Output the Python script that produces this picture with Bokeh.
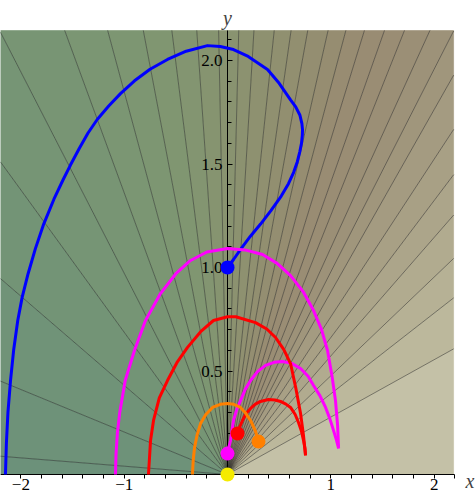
import math
from bokeh.plotting import figure
from bokeh.models import FixedTicker, Label, LinearAxis
from bokeh.embed import file_html
from bokeh.resources import INLINE

# ---- data ----
# angles (degrees, in data space) of the contour rays from the origin
contour_angles = [15.5, 21.3, 25.5, 29.8, 33.5, 37.3, 41.4, 44.4, 47.6, 51.4,
                  54.7, 58.3, 61.9, 65.6, 70.1, 74.0, 78.1, 83.2, 87.1, 92.3,
                  97.9, 104.1, 110.8, 118.4, 126.3, 135.8, 145.5, 156.7, 168.4, 177.7]
# fill colour of each band between consecutive rays (0deg -> 180deg)
band_colors = ["#C4C1A7", "#BCB89C", "#B6B195", "#B1AB8F", "#ACA58A", "#A8A085",
               "#A49B81", "#A0967C", "#9D9279", "#9B8F76", "#9A8D74", "#998C73",
               "#988C72", "#968D71", "#948E71", "#928F70", "#909070", "#8E9170",
               "#8C9270", "#899370", "#869470", "#839571", "#809671", "#7D9672",
               "#7B9673", "#789574", "#769575", "#739476", "#709378", "#6E9279",
               "#6C917A"]

blue_x = [0.0, 0.06, 0.13, 0.22, 0.32, 0.42, 0.52, 0.59, 0.64, 0.675, 0.70, 0.716,
          0.724, 0.726, 0.72, 0.70, 0.66, 0.61, 0.50, 0.387, 0.2, 0.058, -0.07, -0.194,
          -0.4, -0.581, -0.75, -0.90, -1.036, -1.15, -1.261, -1.35, -1.435, -1.52,
          -1.59, -1.68, -1.778, -1.86, -1.93, -1.987, -2.03, -2.07, -2.1, -2.125,
          -2.14, -2.149]
blue_y = [1.0, 1.04, 1.09, 1.15, 1.21, 1.275, 1.345, 1.405, 1.46, 1.51, 1.56, 1.60,
          1.64, 1.665, 1.695, 1.737, 1.776, 1.81, 1.89, 1.957, 2.02, 2.053, 2.068, 2.072,
          2.045, 2.005, 1.958, 1.902, 1.84, 1.78, 1.715, 1.65, 1.575, 1.495,
          1.425, 1.33, 1.211, 1.09, 0.97, 0.857, 0.744, 0.6, 0.454, 0.3,
          0.15, 0.0]

mag_big_x = [-1.084, -1.079, -1.066, -1.043, -0.99, -0.9, -0.794, -0.649, -0.5, -0.358,
             -0.2, 0.0, 0.17, 0.339, 0.48, 0.61, 0.73, 0.833, 0.91,
             0.968, 1.01, 1.045, 1.065, 1.075]
mag_big_y = [0.0, 0.1, 0.2, 0.3, 0.454, 0.6, 0.744, 0.874, 0.97, 1.034,
             1.075, 1.092, 1.085, 1.063, 1.02, 0.961, 0.885, 0.792, 0.7,
             0.599, 0.48, 0.357, 0.24, 0.126]
mag_small_x = [0.0, 0.012, 0.029, 0.058, 0.09, 0.126, 0.17, 0.223, 0.29, 0.368, 0.45,
               0.532, 0.62, 0.707, 0.78, 0.833, 0.895, 0.949, 0.99, 1.026, 1.055, 1.075]
mag_small_y = [0.101, 0.13, 0.164, 0.261, 0.315, 0.357, 0.41, 0.454, 0.497, 0.527, 0.542,
               0.546, 0.537, 0.512, 0.475, 0.43, 0.38, 0.324, 0.27, 0.213, 0.165, 0.126]

red_big_x = [-0.765, -0.755, -0.745, -0.716, -0.66, -0.581, -0.49, -0.387, -0.26, -0.136,
             0.0, 0.08, 0.271, 0.38, 0.465, 0.545, 0.61, 0.66, 0.707, 0.735, 0.755]
red_big_y = [0.0, 0.08, 0.164, 0.261, 0.37, 0.454, 0.54, 0.614, 0.69, 0.744,
             0.762, 0.762, 0.734, 0.703, 0.662, 0.603, 0.536, 0.42, 0.295, 0.19, 0.092]
red_small_x = [0.097, 0.12, 0.145, 0.18, 0.223, 0.27, 0.319, 0.397, 0.46, 0.513, 0.565,
               0.61, 0.655, 0.687, 0.715, 0.736, 0.75, 0.755]
red_small_y = [0.198, 0.232, 0.261, 0.295, 0.319, 0.34, 0.353, 0.362, 0.36, 0.353, 0.34,
               0.324, 0.29, 0.251, 0.21, 0.164, 0.125, 0.092]

orange_x = [0.30, 0.27, 0.223, 0.17, 0.126, 0.06, 0.0, -0.07, -0.145, -0.21, -0.261,
            -0.295, -0.319, -0.332, -0.339]
orange_y = [0.159, 0.21, 0.261, 0.3, 0.324, 0.339, 0.343, 0.339, 0.324, 0.29, 0.246,
            0.19, 0.13, 0.07, 0.0]

dot_x = [0.0, 0.0, 0.097, 0.30, 0.0]
dot_y = [1.0, 0.101, 0.198, 0.159, 0.0]
dot_colors = ["#0000FF", "#FF00FF", "#FF0000", "#FF8000", "#F5EB00"]

y_major = [0.5, 1.0, 1.5, 2.0]
y_minor = [0.1, 0.2, 0.3, 0.4, 0.6, 0.7, 0.8, 0.9, 1.1, 1.2, 1.3, 1.4,
           1.6, 1.7, 1.8, 1.9, 2.1]
y_labels = {0.5: "0.5", 1.0: "1.0", 1.5: "1.5", 2.0: "2.0"}
x_major = [-2, -1, 1, 2]
x_minor = [-2.2, -1.8, -1.6, -1.4, -1.2, -0.8, -0.6, -0.4, -0.2, 0.0,
           0.2, 0.4, 0.6, 0.8, 1.2, 1.4, 1.6, 1.8, 2.2]
x_labels = {-2: "\u22122", -1: "\u22121", 1: "1", 2: "2"}

# plot region (data) covered by the shaded contour background
BX0, BX1, BY0, BY1 = -2.197, 2.188, 0.0, 2.145
AXIS_X_END = 2.2
X_NAME_POS = 2.345

# ---- figure ----
X0, X1 = -2.197, 2.40
Y0, Y1 = -0.1256, 2.29
p = figure(frame_width=475, frame_height=500, x_range=(X0, X1), y_range=(Y0, Y1),
           output_backend="svg", toolbar_location=None,
           x_axis_location=None, y_axis_location=None,
           min_border_left=0, min_border_right=0, min_border_top=0, min_border_bottom=0)
p.grid.visible = False
p.outline_line_color = None
p.background_fill_color = "white"
p.border_fill_color = "white"


def clip_poly(pts, xmin, xmax, ymin, ymax):
    def clip(pts, inside, inter):
        out = []
        for i in range(len(pts)):
            cur, prev = pts[i], pts[i - 1]
            if inside(cur):
                if not inside(prev):
                    out.append(inter(prev, cur))
                out.append(cur)
            elif inside(prev):
                out.append(inter(prev, cur))
        return out

    def ix(a, b, x):
        t = (x - a[0]) / (b[0] - a[0])
        return (x, a[1] + t * (b[1] - a[1]))

    def iy(a, b, y):
        t = (y - a[1]) / (b[1] - a[1])
        return (a[0] + t * (b[0] - a[0]), y)

    pts = clip(pts, lambda q: q[0] >= xmin, lambda a, b: ix(a, b, xmin))
    pts = clip(pts, lambda q: q[0] <= xmax, lambda a, b: ix(a, b, xmax))
    pts = clip(pts, lambda q: q[1] >= ymin, lambda a, b: iy(a, b, ymin))
    pts = clip(pts, lambda q: q[1] <= ymax, lambda a, b: iy(a, b, ymax))
    return pts


R = 10.0
edges = [0.0] + contour_angles + [180.0]
bxs, bys = [], []
for a0, a1 in zip(edges[:-1], edges[1:]):
    tri = [(0.0, 0.0),
           (R * math.cos(math.radians(a0)), R * math.sin(math.radians(a0))),
           (R * math.cos(math.radians(a1)), R * math.sin(math.radians(a1)))]
    poly = clip_poly(tri, BX0, BX1, BY0, BY1)
    bxs.append([q[0] for q in poly])
    bys.append([q[1] for q in poly])
p.patches(bxs, bys, fill_color=band_colors, line_color=band_colors, line_width=0.6)

rx1, ry1 = [], []
for a in contour_angles:
    c, s = math.cos(math.radians(a)), math.sin(math.radians(a))
    ts = [BY1 / s]
    ts.append(BX1 / c if c > 0 else BX0 / c)
    t = min(ts)
    rx1.append(t * c)
    ry1.append(t * s)
p.segment(x0=[0.0] * len(rx1), y0=[0.0] * len(rx1), x1=rx1, y1=ry1,
          line_color="#2a2a2a", line_alpha=0.5, line_width=1)

xaxis = LinearAxis(fixed_location=0, bounds=(X0, AXIS_X_END))
xaxis.ticker = FixedTicker(ticks=x_major, minor_ticks=x_minor)
xaxis.major_label_overrides = x_labels
p.add_layout(xaxis, "below")
yaxis = LinearAxis(fixed_location=0, bounds=(0, BY1))
yaxis.ticker = FixedTicker(ticks=y_major, minor_ticks=y_minor)
yaxis.major_label_overrides = y_labels
p.add_layout(yaxis, "left")
for ax in (xaxis, yaxis):
    ax.axis_line_color = "black"
    ax.axis_line_width = 1
    ax.major_tick_line_color = "black"
    ax.minor_tick_line_color = "black"
    ax.major_label_text_font = "Liberation Serif"
    ax.major_label_text_font_size = "17px"
    ax.major_label_text_color = "black"
xaxis.major_tick_out = 4
xaxis.major_tick_in = 0
xaxis.minor_tick_out = 4
xaxis.minor_tick_in = 0
xaxis.major_label_standoff = 0
yaxis.major_tick_out = 0
yaxis.major_tick_in = 5
yaxis.minor_tick_out = 0
yaxis.minor_tick_in = 4
yaxis.major_label_standoff = 5

curves = [(blue_x, blue_y, "#0000FF"), (mag_big_x, mag_big_y, "#FF00FF"),
          (mag_small_x, mag_small_y, "#FF00FF"), (red_big_x, red_big_y, "#FF0000"),
          (red_small_x, red_small_y, "#FF0000"), (orange_x, orange_y, "#FF8000")]
for cx, cy, col in curves:
    r = p.line(cx, cy, line_color=col, line_width=3, line_join="round")
    r.level = "overlay"

d = p.scatter(dot_x, dot_y, size=14, fill_color=dot_colors, line_color=None)
d.level = "overlay"

p.add_layout(Label(x=X_NAME_POS, y=0, y_offset=-6, text="x",
                   text_font="Liberation Serif", text_font_style="italic",
                   text_font_size="20px", text_align="center", text_baseline="alphabetic"))
p.add_layout(Label(x=0, y=BY1, y_offset=13, text="y",
                   text_font="Liberation Serif", text_font_style="italic",
                   text_font_size="20px", text_align="center", text_baseline="alphabetic"))

open("out.html", "w").write(file_html(p, INLINE))
